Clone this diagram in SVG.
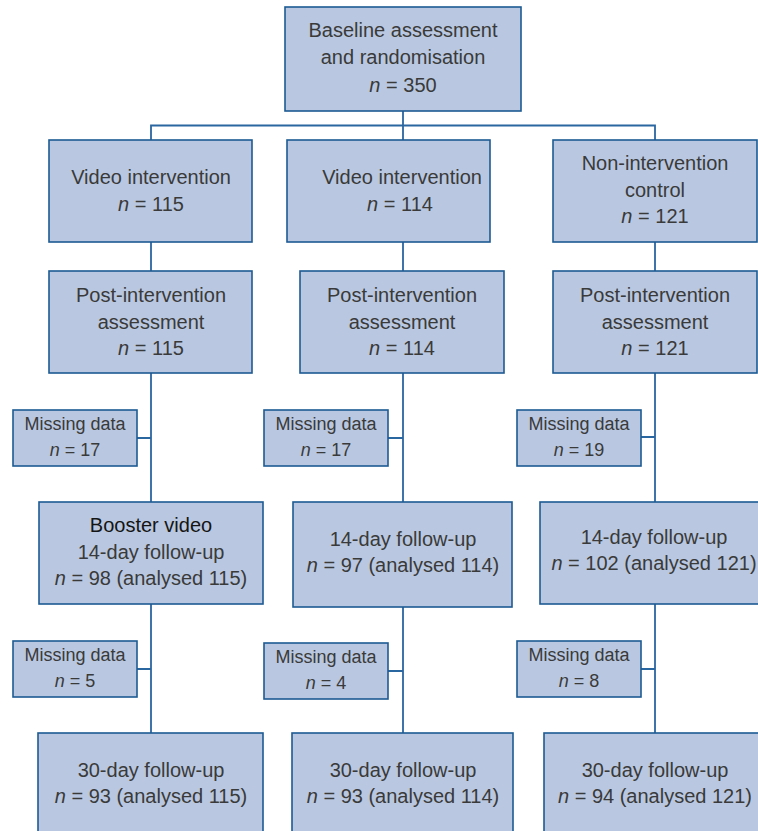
<svg xmlns="http://www.w3.org/2000/svg" width="758" height="831" viewBox="0 0 758 831">
<style>
.box{fill:#b9c8e0;stroke:#1d5b93;stroke-width:1.6}
.t{font-family:"Liberation Sans",Arial,sans-serif;font-size:20px;fill:#3a3a3a;text-anchor:middle}
.s{font-family:"Liberation Sans",Arial,sans-serif;font-size:18px;fill:#3a3a3a;text-anchor:middle}
.b{fill:#151515}
.i{font-style:italic}
.c{fill:none;stroke:#2a66a0;stroke-width:1.8}
</style>
<rect width="758" height="831" fill="#ffffff"/>
<g id="connectors">
<path class="c" d="M403 111V140M151 140V125.5H655V140"/>
<path class="c" d="M151 242V271M403 242V271M655 242V271"/>
<path class="c" d="M151 373V502M403 373V502M655 373V502"/>
<path class="c" d="M137 438H151M388 438H403M641 437H655"/>
<path class="c" d="M151 604V733M403 607V733M655 604V733"/>
<path class="c" d="M137 669H151M388 671H403M641 669H655"/>
</g>
<g id="baseline">
<rect class="box" x="285" y="7" width="236" height="104"/>
<text class="t" x="403" y="37">Baseline assessment</text>
<text class="t" x="403" y="64">and randomisation</text>
<text class="t" x="403" y="92"><tspan class="i">n</tspan> = 350</text>
</g>
<g id="video1">
<rect class="box" x="49" y="140" width="203" height="102"/>
<text class="t" x="151" y="184">Video intervention</text>
<text class="t" x="151" y="211"><tspan class="i">n</tspan> = 115</text>
</g>
<g id="video2">
<rect class="box" x="287" y="140" width="203" height="102"/>
<text class="t" x="402" y="184">Video intervention</text>
<text class="t" x="400" y="211"><tspan class="i">n</tspan> = 114</text>
</g>
<g id="control">
<rect class="box" x="553" y="140" width="204" height="102"/>
<text class="t" x="655" y="170">Non-intervention</text>
<text class="t" x="655" y="197">control</text>
<text class="t" x="655" y="223"><tspan class="i">n</tspan> = 121</text>
</g>
<g id="post1">
<rect class="box" x="49" y="271" width="203" height="102"/>
<text class="t" x="151" y="302">Post-intervention</text>
<text class="t" x="151" y="329">assessment</text>
<text class="t" x="151" y="355"><tspan class="i">n</tspan> = 115</text>
</g>
<g id="post2">
<rect class="box" x="300" y="271" width="204" height="102"/>
<text class="t" x="402" y="302">Post-intervention</text>
<text class="t" x="402" y="329">assessment</text>
<text class="t" x="402" y="355"><tspan class="i">n</tspan> = 114</text>
</g>
<g id="post3">
<rect class="box" x="553" y="271" width="204" height="102"/>
<text class="t" x="655" y="302">Post-intervention</text>
<text class="t" x="655" y="329">assessment</text>
<text class="t" x="655" y="355"><tspan class="i">n</tspan> = 121</text>
</g>
<g id="missing1a">
<rect class="box" x="13" y="410" width="124" height="56"/>
<text class="s" x="75" y="430">Missing data</text>
<text class="s" x="75" y="456"><tspan class="i">n</tspan> = 17</text>
</g>
<g id="missing2a">
<rect class="box" x="264" y="410" width="124" height="56"/>
<text class="s" x="326" y="430">Missing data</text>
<text class="s" x="326" y="456"><tspan class="i">n</tspan> = 17</text>
</g>
<g id="missing3a">
<rect class="box" x="517" y="410" width="124" height="56"/>
<text class="s" x="579" y="430">Missing data</text>
<text class="s" x="579" y="456"><tspan class="i">n</tspan> = 19</text>
</g>
<g id="day14a">
<rect class="box" x="39" y="502" width="224" height="102"/>
<text class="t b" x="151" y="532">Booster video</text>
<text class="t" x="151" y="559">14-day follow-up</text>
<text class="t" x="151" y="585"><tspan class="i">n</tspan> = 98 (analysed 115)</text>
</g>
<g id="day14b">
<rect class="box" x="293" y="502" width="219" height="105"/>
<text class="t" x="403" y="546">14-day follow-up</text>
<text class="t" x="403" y="572"><tspan class="i">n</tspan> = 97 (analysed 114)</text>
</g>
<g id="day14c">
<rect class="box" x="540" y="502" width="230" height="102"/>
<text class="t" x="654" y="544">14-day follow-up</text>
<text class="t" x="654" y="570"><tspan class="i">n</tspan> = 102 (analysed 121)</text>
</g>
<g id="missing1b">
<rect class="box" x="13" y="641" width="124" height="56"/>
<text class="s" x="75" y="661">Missing data</text>
<text class="s" x="75" y="687"><tspan class="i">n</tspan> = 5</text>
</g>
<g id="missing2b">
<rect class="box" x="264" y="643" width="124" height="56"/>
<text class="s" x="326" y="663">Missing data</text>
<text class="s" x="326" y="689"><tspan class="i">n</tspan> = 4</text>
</g>
<g id="missing3b">
<rect class="box" x="517" y="641" width="124" height="56"/>
<text class="s" x="579" y="661">Missing data</text>
<text class="s" x="579" y="687"><tspan class="i">n</tspan> = 8</text>
</g>
<g id="day30a">
<rect class="box" x="38" y="733" width="225" height="110"/>
<text class="t" x="151" y="777">30-day follow-up</text>
<text class="t" x="151" y="803"><tspan class="i">n</tspan> = 93 (analysed 115)</text>
</g>
<g id="day30b">
<rect class="box" x="292" y="733" width="221" height="110"/>
<text class="t" x="403" y="777">30-day follow-up</text>
<text class="t" x="403" y="803"><tspan class="i">n</tspan> = 93 (analysed 114)</text>
</g>
<g id="day30c">
<rect class="box" x="544" y="733" width="226" height="110"/>
<text class="t" x="655" y="777">30-day follow-up</text>
<text class="t" x="655" y="803"><tspan class="i">n</tspan> = 94 (analysed 121)</text>
</g>
</svg>
